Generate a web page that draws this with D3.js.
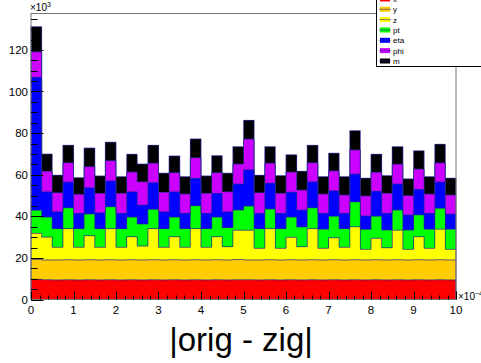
<!DOCTYPE html>
<html><head><meta charset="utf-8">
<script src="https://cdn.jsdelivr.net/npm/d3@7/dist/d3.min.js"></script>
<style>body{margin:0;background:#fff}svg{display:block}</style>
</head><body>
<svg id="chart" width="481" height="363"></svg>
<script>
// Bins: 40 bins from 0 to 10 (x 1e-4); values in thousands (x 1e3)
const binWidth = 0.25;
const binLow = d3.range(40).map(i => i * binWidth);
const seriesNames = ["x", "y", "z", "pt", "eta", "phi", "m"];
const seriesColors = ["#ff0000", "#ffcc00", "#ffff00", "#00ff00", "#0000ff", "#cc00ff", "#000000"];
const xTicks = [0,1,2,3,4,5,6,7,8,9,10];
const yTicks = [0,20,40,60,80,100,120];

const xVals = [9.7,9.5,9.4,9.5,9.4,9.5,9.4,9.5,9.4,9.5, 9.4,9.5,9.4,9.5,9.4,9.5,9.4,9.5,9.4,9.5,
               9.5,9.4,9.5,9.4,9.5,9.4,9.5,9.4,9.5,9.4, 9.5,9.4,9.5,9.4,9.5,9.4,9.5,9.4,9.5,9.4];
const yVals = [9.6,9.5,9.6,9.6,9.6,9.6,9.6,9.6,9.6,9.6, 9.6,9.6,9.6,9.6,9.6,9.6,9.6,9.6,9.6,9.7,
               9.5,9.6,9.6,9.6,9.6,9.6,9.6,9.6,9.6,9.6, 9.6,9.6,9.6,9.6,9.6,9.6,9.6,9.6,9.6,9.6];
const zVals = [12.5,11.0,6.1,15.0,6.1,11.6,6.1,15.0,6.1,11.1, 6.7,15.0,6.1,11.1,6.1,15.0,6.1,11.1,6.4,14.1,
               14.3,5.6,15.0,5.6,10.8,6.4,15.0,5.6,10.6,6.1, 15.9,5.1,10.3,5.9,14.2,5.1,11.1,5.6,14.7,5.1];
const ptVals = [11.1,9.6,9.0,10.0,9.0,10.4,9.0,10.5,9.0,9.4, 10.6,9.2,9.0,9.4,9.0,11.0,9.0,9.4,9.2,9.7,
                11.6,9.5,9.4,9.5,9.7,9.5,10.0,9.2,10.3,9.0, 12.0,9.6,10.6,8.5,9.7,9.3,10.5,9.2,10.0,9.7];
const etaVals = [63.9,12.2,8.1,12.4,7.3,12.7,7.6,12.4,7.3,12.2, 9.1,12.9,8.1,12.2,7.3,13.1,7.3,11.4,7.6,12.5,
                 17.5,7.3,12.4,7.3,12.0,8.1,12.5,7.6,12.3,7.3, 13.3,6.5,12.0,8.0,12.5,7.3,12.2,7.6,12.7,7.3];
const phiVals = [12.3,9.8,9.2,9.3,9.1,10.1,9.3,9.8,9.6,9.5, 11.2,9.3,9.3,9.2,9.3,10.0,9.6,10.0,9.6,9.6,
                 14.7,10.0,9.6,9.6,9.6,9.6,9.2,9.3,9.5,8.8, 11.6,9.6,9.1,9.6,9.5,9.3,9.8,9.3,9.2,9.1];
const mVals = [12.1,8.3,8.3,8.3,8.1,8.9,8.4,8.8,8.1,8.5, 8.5,8.6,9.2,8.0,8.4,9.0,8.4,8.2,8.9,8.4,
               9.0,8.3,8.0,8.6,8.4,9.0,8.3,8.4,8.5,8.9, 9.3,8.5,8.7,8.6,8.5,8.0,8.8,8.4,8.9,8.1];

const seriesArrays = [xVals, yVals, zVals, ptVals, etaVals, phiVals, mVals];
const table = binLow.map((b, i) => {
  const row = { low: b };
  seriesNames.forEach((n, k) => row[n] = seriesArrays[k][i]);
  return row;
});

const svg = d3.select("#chart");
const pLeft = 31, pRight = 456, pTop = 13.5, pBottom = 299.5;
const xScale = d3.scaleLinear().domain([0, 10]).range([pLeft, pRight]);
const yScale = d3.scaleLinear().domain([0, 137.5]).range([pBottom, pTop]);

const stacked = d3.stack().keys(seriesNames)(table);

const outline = "#2a2a90";
stacked.forEach((layer, k) => {
  const g = svg.append("g");
  g.selectAll("rect").data(layer).join("rect")
    .attr("x", d => xScale(d.data.low))
    .attr("width", d => xScale(d.data.low + binWidth) - xScale(d.data.low))
    .attr("y", d => yScale(d[1]))
    .attr("height", d => yScale(d[0]) - yScale(d[1]))
    .attr("fill", seriesColors[k])
    .attr("shape-rendering", "crispEdges");
});
// outline step contours
stacked.forEach((layer, k) => {
  const pts = [[0, layer[0][0]]];
  layer.forEach(d => { pts.push([d.data.low, d[1]]); pts.push([d.data.low + binWidth, d[1]]); });
  pts.push([10, layer[layer.length - 1][0]]);
  svg.append("path")
    .attr("d", d3.line().x(p => xScale(p[0])).y(p => yScale(p[1]))(pts))
    .attr("fill", "none").attr("stroke", outline).attr("stroke-width", 1).attr("stroke-opacity", 0.75);
});

// frame
svg.append("rect").attr("x", pLeft).attr("y", pTop).attr("width", pRight - pLeft).attr("height", pBottom - pTop)
  .attr("fill", "none").attr("stroke", "#777").attr("stroke-width", 1);

// x axis ticks (inward, upward)
const xMinor = d3.range(0, 10.0001, 0.2);
svg.append("g").selectAll("line").data(xMinor).join("line")
  .attr("x1", d => Math.round(xScale(d)) + 0.5).attr("x2", d => Math.round(xScale(d)) + 0.5)
  .attr("y1", pBottom).attr("y2", d => pBottom - (Math.abs(d - Math.round(d)) < 1e-6 ? 8 : 4))
  .attr("stroke", "#000").attr("stroke-width", 1);
svg.append("g").selectAll("text").data(xTicks).join("text")
  .attr("x", d => xScale(d)).attr("y", 314)
  .attr("text-anchor", "middle").attr("font-family", "Liberation Sans, Arial, sans-serif")
  .attr("font-size", 11.5).attr("fill", "#000").text(d => d);

// y axis ticks (inward, rightward)
const yMinor = d3.range(0, 135.0001, 5);
svg.append("g").selectAll("line").data(yMinor).join("line")
  .attr("y1", d => Math.round(yScale(d)) + 0.5).attr("y2", d => Math.round(yScale(d)) + 0.5)
  .attr("x1", pLeft).attr("x2", d => pLeft + (d % 20 === 0 ? 12.5 : 6.5))
  .attr("stroke", "#000").attr("stroke-width", 1);
svg.append("g").selectAll("text").data(yTicks).join("text")
  .attr("x", 28).attr("y", d => yScale(d) + 4)
  .attr("text-anchor", "end").attr("font-family", "Liberation Sans, Arial, sans-serif")
  .attr("font-size", 11.5).attr("fill", "#000").text(d => d);

// exponent labels
const ey = svg.append("text").attr("x", 30).attr("y", 11)
  .attr("font-family", "Liberation Sans, Arial, sans-serif").attr("font-size", 10).attr("fill", "#000");
ey.append("tspan").text("\u00d710");
ey.append("tspan").attr("dy", -4).attr("font-size", 7).text("3");
const ex = svg.append("text").attr("x", 458).attr("y", 300)
  .attr("font-family", "Liberation Sans, Arial, sans-serif").attr("font-size", 10).attr("fill", "#000");
ex.append("tspan").text("\u00d710");
ex.append("tspan").attr("dy", -4).attr("font-size", 7).text("\u22124");

// legend
const lg = svg.append("g");
lg.append("rect").attr("x", 376.5).attr("y", -10).attr("width", 110).attr("height", 76.5)
  .attr("fill", "#fff").attr("stroke", "#000").attr("stroke-width", 1);
const legY = [-1, 9.3, 19.6, 30, 40.3, 50.6, 61];
seriesNames.forEach((n, k) => {
  const cy = legY[k];
  lg.append("rect").attr("x", 380).attr("y", cy - 2.5).attr("width", 10).attr("height", 5)
    .attr("fill", seriesColors[k]);
  lg.append("line").attr("x1", 379).attr("x2", 391).attr("y1", cy).attr("y2", cy)
    .attr("stroke", outline).attr("stroke-opacity", 0.6).attr("stroke-width", 1);
  lg.append("text").attr("x", 393).attr("y", cy + 3)
    .attr("font-family", "Liberation Sans, Arial, sans-serif").attr("font-size", 8).attr("fill", "#000")
    .text(n);
});

// title
svg.append("text").attr("x", 241).attr("y", 351).attr("text-anchor", "middle")
  .attr("font-family", "Liberation Sans, Arial, sans-serif").attr("font-size", 33).attr("fill", "#000")
  .text("|orig - zig|");
</script>
</body></html>
